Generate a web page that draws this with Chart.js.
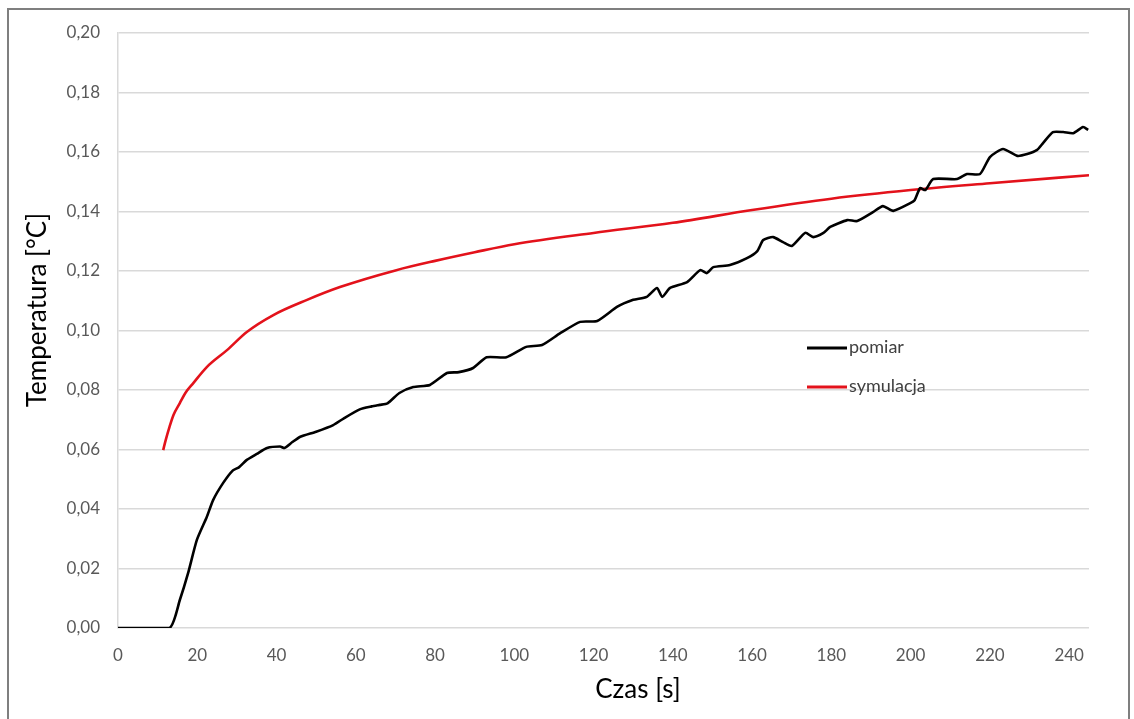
<!DOCTYPE html>
<html>
<head>
    <title>Temperatura - pomiar i symulacja</title>
    <script src="https://cdn.jsdelivr.net/npm/chart.js"></script>
    <style>
        html, body { margin: 0; padding: 0; background: #ffffff; }
        #wrap { position: relative; width: 1134px; height: 719px; }
    </style>
</head>
<body>
    <div id="wrap"><canvas id="tempChart" width="1134" height="719"></canvas></div>

    <script>
        // pomiar (measurement)
        const pomiarCzas = [0, 13, 15.6, 17.7, 19.9, 22.4, 24, 26.5, 29, 30.5,
            32.5, 35, 37.6, 40.9, 42, 44, 46, 50, 54.3, 57,
            61, 64, 66, 68, 71, 74.5, 78.7, 83, 86, 89.6,
            93, 98, 103, 107, 111.5, 116.6, 120.9, 126, 130, 133.4,
            136, 137.3, 139.3, 143.6, 146.9, 148.6, 150.2, 154.4, 158.7, 161.3,
            162.8, 165.3, 167.8, 170, 173.4, 175.4, 178, 179.7, 184, 186.5,
            190.5, 193, 195.6, 199.9, 201, 202.4, 203.7, 205.7, 211.7, 214.2,
            217.5, 220, 223.3, 226.9, 229.4, 231.9, 233.4, 235.9, 238.5, 241,
            243.5, 244.8];
        const pomiarTemp = [0, 0, 0.0094, 0.0185, 0.0296, 0.0373, 0.043, 0.0487, 0.053, 0.054,
            0.0565, 0.0585, 0.0605, 0.061, 0.0605, 0.0625, 0.0643, 0.066, 0.0682, 0.0705,
            0.0735, 0.0745, 0.075, 0.0755, 0.079, 0.081, 0.0817, 0.0857, 0.086, 0.0874,
            0.091, 0.091, 0.0945, 0.0951, 0.099, 0.1029, 0.1032, 0.108, 0.1103, 0.1113,
            0.1143, 0.1113, 0.1143, 0.1163, 0.1203, 0.1193, 0.1213, 0.122, 0.1243, 0.1267,
            0.1304, 0.1314, 0.1297, 0.1284, 0.1328, 0.1314, 0.1328, 0.1348, 0.1371, 0.1368,
            0.1398, 0.1418, 0.1402, 0.1428, 0.1438, 0.1479, 0.1472, 0.1509, 0.1509, 0.1526,
            0.1526, 0.1583, 0.161, 0.1587, 0.1593, 0.1607, 0.163, 0.1667, 0.1667, 0.1663,
            0.1684, 0.1674];

        // symulacja (simulation)
        const symCzas = [11.4, 12, 13, 14, 15.6, 17, 19, 22.4, 27.5, 32.5, 39.2, 47.7, 56, 70, 80, 90, 100, 120, 140, 160, 180, 200, 220, 245];
        const symTemp = [0.0598, 0.063, 0.0676, 0.0716, 0.0756, 0.079, 0.0823, 0.0877, 0.0934, 0.0995, 0.1052, 0.1103, 0.1146, 0.1202, 0.1234, 0.1263, 0.129, 0.1328, 0.1362, 0.1405, 0.1443, 0.1472, 0.1495, 0.1522];

        const xTicks = [0, 20, 40, 60, 80, 100, 120, 140, 160, 180, 200, 220, 240];
        const xTitle = 'Czas [s]';
        const yTitle = 'Temperatura [°C]';

        const toPoints = (xs, ys) => xs.map((x, i) => ({ x: x, y: ys[i] }));
        const fontFamily = 'Lato, "Open Sans", sans-serif';

        // frame, axis titles and the small legend inside the plot
        const decorPlugin = {
            id: 'decor',
            afterDraw(chart) {
                const ctx = chart.ctx;
                const area = chart.chartArea;
                ctx.save();
                ctx.strokeStyle = '#7f7f7f';
                ctx.lineWidth = 2;
                ctx.strokeRect(8, 9, 1121, 730);

                ctx.fillStyle = '#000000';
                ctx.font = '26px ' + fontFamily;
                ctx.textAlign = 'center';
                ctx.textBaseline = 'middle';
                ctx.fillText(xTitle, 638, 690);
                ctx.translate(38, 310);
                ctx.rotate(-Math.PI / 2);
                ctx.fillText(yTitle, 0, 0);
                ctx.restore();

                ctx.save();
                ctx.font = '18px ' + fontFamily;
                ctx.textBaseline = 'middle';
                ctx.textAlign = 'left';
                const lx = area.left + 689;
                chart.data.datasets.forEach((ds, i) => {
                    const ly = area.top + 315 + i * 39;
                    ctx.strokeStyle = ds.borderColor;
                    ctx.lineWidth = 3;
                    ctx.beginPath();
                    ctx.moveTo(lx, ly);
                    ctx.lineTo(lx + 40, ly);
                    ctx.stroke();
                    ctx.fillStyle = '#404040';
                    ctx.fillText(ds.label, lx + 42, ly - 1);
                });
                ctx.restore();
            }
        };

        new Chart(document.getElementById('tempChart'), {
            type: 'line',
            data: {
                datasets: [
                    {
                        label: 'pomiar',
                        data: toPoints(pomiarCzas, pomiarTemp),
                        borderColor: '#000000',
                        borderWidth: 2.6,
                        pointRadius: 0,
                        tension: 0.2
                    },
                    {
                        label: 'symulacja',
                        data: toPoints(symCzas, symTemp),
                        borderColor: '#e3121b',
                        borderWidth: 2.6,
                        pointRadius: 0,
                        cubicInterpolationMode: 'monotone'
                    }
                ]
            },
            options: {
                responsive: false,
                animation: false,
                layout: { padding: { left: 0, top: 33, right: 45, bottom: 0 } },
                plugins: {
                    legend: { display: false },
                    tooltip: { enabled: false }
                },
                scales: {
                    x: {
                        type: 'linear',
                        min: 0,
                        max: 245,
                        afterFit: (scale) => { scale.height = 91; },
                        afterBuildTicks: (scale) => {
                            scale.ticks = xTicks.map(v => ({ value: v }));
                        },
                        grid: { display: false, drawTicks: false },
                        border: { display: false },
                        ticks: {
                            padding: 17,
                            color: '#595959',
                            font: { family: fontFamily, size: 17 },
                            maxRotation: 0
                        }
                    },
                    y: {
                        min: 0,
                        max: 0.2,
                        afterFit: (scale) => { scale.width = 118; },
                        grid: { color: '#d9d9d9', lineWidth: 1.5, drawTicks: false },
                        border: { display: true, color: '#d9d9d9', width: 1.5 },
                        ticks: {
                            stepSize: 0.02,
                            padding: 18,
                            color: '#595959',
                            font: { family: fontFamily, size: 17 },
                            callback: (v) => v.toFixed(2).replace('.', ',')
                        }
                    }
                }
            },
            plugins: [decorPlugin]
        });
    </script>
</body>
</html>
